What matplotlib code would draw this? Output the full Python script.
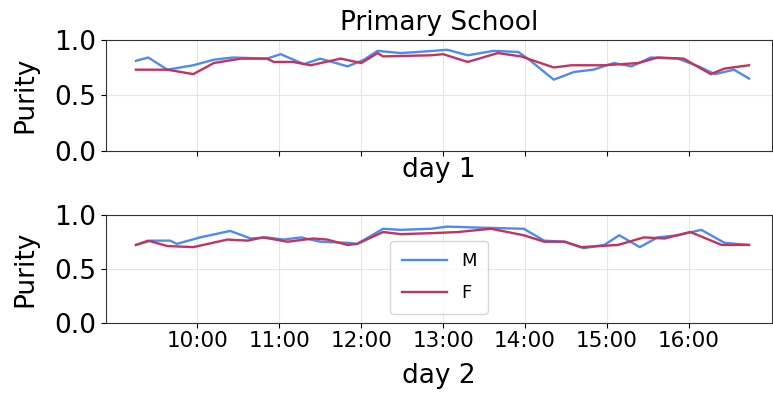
import matplotlib
matplotlib.use("Agg")
import matplotlib.pyplot as plt
import matplotlib.dates as mdates
import pandas as pd

# 1일차 (day 1)
d1_m_time = ["9:15", "9:24", "9:38", "9:57", "10:12", "10:26", "10:51", "11:01", "11:18", "11:30",
             "11:50", "12:02", "12:12", "12:29", "12:53", "13:03", "13:18", "13:37", "13:55", "14:02",
             "14:21", "14:36", "14:50", "15:05", "15:18", "15:32", "15:52", "16:07", "16:19", "16:33", "16:44"]
d1_m_val = [0.81, 0.84, 0.73, 0.77, 0.82, 0.84, 0.83, 0.87, 0.78, 0.83,
            0.76, 0.82, 0.90, 0.88, 0.90, 0.91, 0.86, 0.90, 0.89, 0.83,
            0.64, 0.71, 0.73, 0.79, 0.76, 0.84, 0.83, 0.76, 0.69, 0.73, 0.65]
d1_f_time = ["9:15", "9:38", "9:57", "10:12", "10:32", "10:51", "10:56", "11:10", "11:23", "11:45",
             "12:00", "12:12", "12:16", "12:51", "13:00", "13:18", "13:40", "13:57", "14:21", "14:34",
             "14:58", "15:23", "15:37", "15:56", "16:16", "16:26", "16:44"]
d1_f_val = [0.73, 0.73, 0.69, 0.79, 0.83, 0.83, 0.80, 0.80, 0.77, 0.83,
            0.79, 0.88, 0.85, 0.86, 0.87, 0.80, 0.88, 0.85, 0.75, 0.77,
            0.77, 0.79, 0.84, 0.83, 0.69, 0.74, 0.77]

# 2일차 (day 2)
d2_m_time = ["9:15", "9:26", "9:40", "9:45", "10:02", "10:24", "10:39", "10:51", "11:03", "11:16",
             "11:30", "11:50", "11:57", "12:16", "12:29", "12:51", "13:03", "13:28", "13:59", "14:14",
             "14:29", "14:43", "14:58", "15:09", "15:24", "15:37", "15:52", "16:09", "16:26", "16:44"]
d2_m_val = [0.72, 0.76, 0.76, 0.73, 0.79, 0.85, 0.78, 0.79, 0.77, 0.79,
            0.75, 0.74, 0.73, 0.87, 0.86, 0.87, 0.89, 0.88, 0.87, 0.76,
            0.75, 0.69, 0.72, 0.81, 0.70, 0.79, 0.81, 0.86, 0.74, 0.72]
d2_f_time = ["9:15", "9:24", "9:38", "9:57", "10:22", "10:37", "10:48", "11:06", "11:25", "11:35",
             "11:50", "11:57", "12:16", "12:29", "12:53", "13:11", "13:35", "13:59", "14:14", "14:29",
             "14:41", "15:08", "15:27", "15:42", "16:01", "16:24", "16:44"]
d2_f_val = [0.72, 0.76, 0.71, 0.70, 0.77, 0.76, 0.79, 0.75, 0.78, 0.77,
            0.72, 0.73, 0.84, 0.82, 0.83, 0.84, 0.87, 0.81, 0.75, 0.75,
            0.70, 0.72, 0.79, 0.78, 0.84, 0.72, 0.72]

color_m = "#4C8BF5"
color_f = "#C7325B"

W, H = 773, 394


def to_dt(times):
    return pd.to_datetime(["2000-01-01 " + t for t in times])


fig = plt.figure(figsize=(W / 100, H / 100), dpi=100)
ax1 = fig.add_axes([0.137, 0.618, 0.862, 0.281])
ax2 = fig.add_axes([0.137, 0.181, 0.862, 0.274], sharex=ax1)

ax1.plot(to_dt(d1_m_time), d1_m_val, color=color_m, lw=1.7, label="M")
ax1.plot(to_dt(d1_f_time), d1_f_val, color=color_f, lw=1.7, label="F")
ax2.plot(to_dt(d2_m_time), d2_m_val, color=color_m, lw=1.7, label="M")
ax2.plot(to_dt(d2_f_time), d2_f_val, color=color_f, lw=1.7, label="F")

# 라벨 위치 (figure pixel 기준, 위에서부터)
label_base = {ax1: ("day 1", 177), ax2: ("day 2", 383)}
for ax in (ax1, ax2):
    ax.set_ylim(0, 1.0)
    ax.set_yticks([0.0, 0.5, 1.0])
    ax.tick_params(axis="y", labelsize=19)
    ax.tick_params(axis="x", labelsize=15.5, pad=2.5)
    ax.grid(True, color="#e6e6e6", lw=0.8)
    for s in ax.spines.values():
        s.set_color("#333333")

    pos = ax.get_position()
    ax.set_ylabel("Purity", fontsize=19)
    ax.yaxis.set_label_coords(38 / W, (pos.y0 + pos.y1) / 2, transform=fig.transFigure)

    name, base = label_base[ax]
    ax.set_xlabel(name, fontsize=19)
    ax.xaxis.label.set_va("baseline")
    ax.xaxis.set_label_coords((pos.x0 + pos.x1) / 2, 1 - base / H, transform=fig.transFigure)

ax1.tick_params(axis="x", labelbottom=False)
ax1.set_title("Primary School", fontsize=19, pad=7)

ax1.set_xlim(pd.Timestamp("2000-01-01 08:53"), pd.Timestamp("2000-01-01 17:01"))
ax2.xaxis.set_major_locator(mdates.HourLocator(byhour=range(10, 17)))
ax2.xaxis.set_major_formatter(mdates.DateFormatter("%H:%M"))

ax2.legend(loc="lower center", fontsize=13, handlelength=2.5, labelspacing=0.8,
           borderpad=0.62, borderaxespad=0.5)

fig.savefig("out.png", dpi=100)
